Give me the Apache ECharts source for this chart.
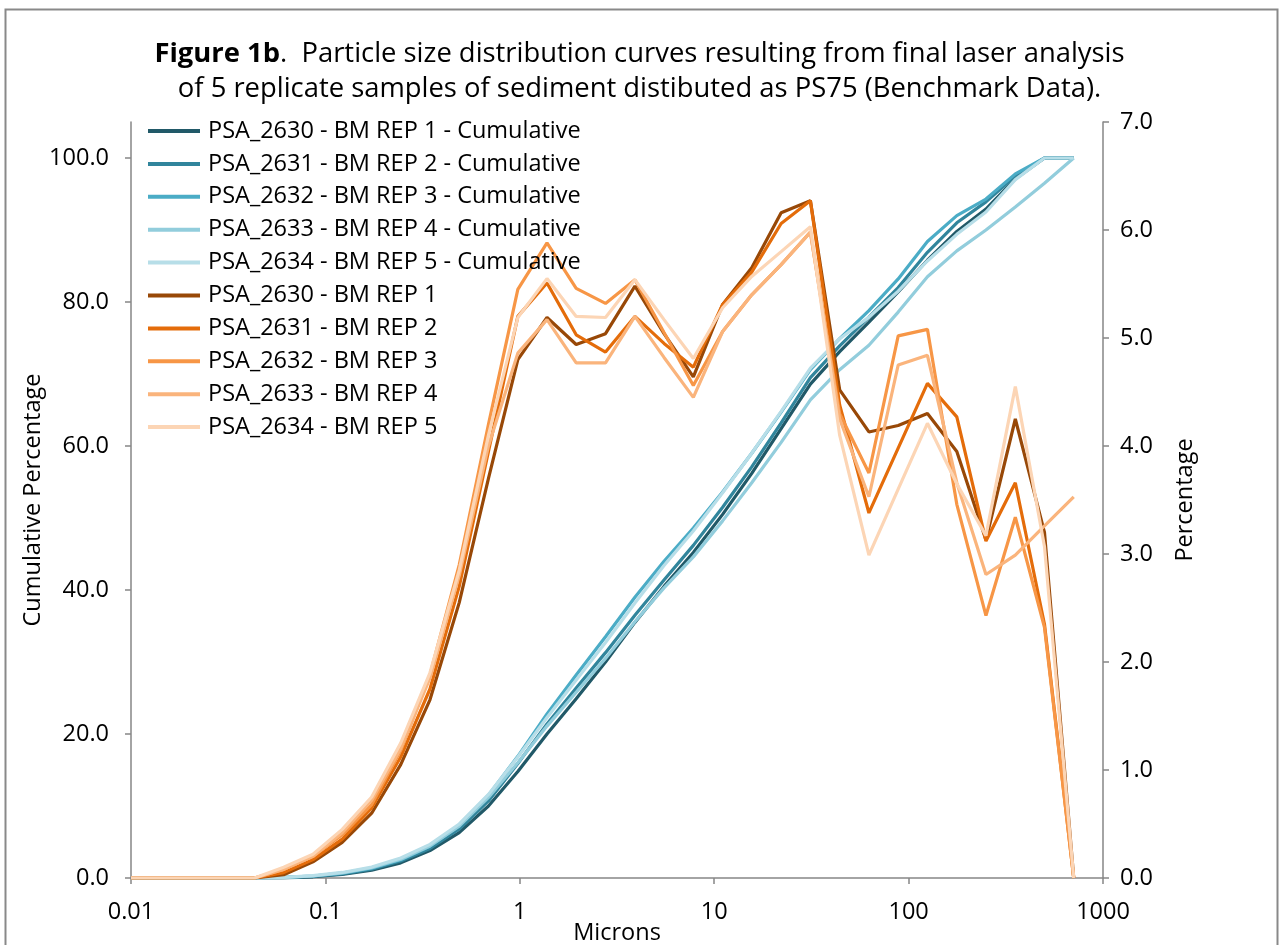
<!DOCTYPE html>
<html>
<head>
<meta charset="utf-8">
<script src="https://cdn.jsdelivr.net/npm/echarts@6/dist/echarts.min.js"></script>
<style>html,body{margin:0;padding:0;background:#fff}#c{width:1279px;height:945px}</style>
</head>
<body>
<div id="c"></div>
<script>
// Particle sizes (microns)
const microns = [0.01, 0.0432, 0.061, 0.0863, 0.122, 0.173, 0.244, 0.345, 0.488, 0.69, 0.977, 1.38, 1.95, 2.76, 3.91, 5.52, 7.81, 11.05, 15.6, 22.1, 31.25, 44.2, 62.5, 88.4, 125, 177, 250, 354, 500, 707];

// Cumulative percentage (left axis)
const cum1 = [0,0,0.03,0.17,0.5,1.1,2.1,3.8,6.3,10.0,14.8,20.0,24.9,30.0,35.5,40.5,45.2,50.5,56.2,62.4,68.6,73.1,77.2,81.4,85.8,89.8,92.9,97.1,100,100];
const cum2 = [0,0,0.05,0.22,0.58,1.23,2.35,4.1,6.8,10.7,15.9,21.4,26.4,31.3,36.5,41.4,46.2,51.5,57.1,63.2,69.5,73.9,77.9,82.0,86.9,91.0,93.9,97.5,100,100];
const cum3 = [0,0,0.08,0.28,0.68,1.36,2.54,4.4,7.3,11.5,16.9,22.8,28.2,33.5,39.0,44.0,48.6,53.6,59.0,64.7,70.6,74.9,78.8,83.2,88.4,92.0,94.3,97.8,100,100];
const cum4 = [0,0,0.08,0.28,0.7,1.42,2.6,4.45,7.2,11.2,16.0,21.1,25.8,30.5,35.6,40.3,44.6,49.6,54.9,60.5,66.4,70.6,74.0,78.6,83.5,87.1,90.0,93.2,96.5,100];
const cum5 = [0,0,0.1,0.32,0.77,1.52,2.77,4.67,7.5,11.6,16.8,22.3,27.5,32.7,38.2,43.4,48.2,53.5,59.0,64.8,70.8,74.9,77.9,81.5,85.7,89.4,92.5,97.0,100,100];

// Percentage in each size class (right axis)
const pct1 = [0,0,0.03,0.15,0.33,0.6,1.05,1.65,2.55,3.7,4.8,5.19,4.94,5.04,5.48,5.04,4.64,5.31,5.65,6.16,6.27,4.52,4.13,4.19,4.30,3.95,3.13,4.25,3.2,0];
const pct2 = [0,0,0.05,0.17,0.36,0.65,1.12,1.75,2.7,3.95,5.2,5.51,5.03,4.87,5.20,4.95,4.73,5.31,5.61,6.06,6.27,4.38,3.38,3.98,4.58,4.27,3.12,3.66,2.35,0];
const pct3 = [0,0,0.08,0.2,0.4,0.68,1.18,1.88,2.9,4.2,5.45,5.88,5.46,5.32,5.54,5.05,4.56,5.06,5.40,5.68,5.98,4.3,3.75,5.02,5.08,3.46,2.43,3.34,2.32,0];
const pct4 = [0,0,0.08,0.2,0.42,0.72,1.2,1.85,2.8,4.0,4.86,5.17,4.77,4.77,5.20,4.82,4.45,5.06,5.40,5.68,5.98,4.25,3.53,4.75,4.84,3.66,2.81,2.99,3.26,3.53];
const pct5 = [0,0,0.1,0.22,0.45,0.75,1.25,1.9,2.85,4.1,5.19,5.55,5.20,5.19,5.54,5.17,4.81,5.28,5.57,5.80,6.03,4.1,2.99,3.60,4.21,3.65,3.17,4.55,3.07,0];

const cumNames = ['PSA_2630 - BM REP 1 - Cumulative','PSA_2631 - BM REP 2 - Cumulative','PSA_2632 - BM REP 3 - Cumulative','PSA_2633 - BM REP 4 - Cumulative','PSA_2634 - BM REP 5 - Cumulative'];
const pctNames = ['PSA_2630 - BM REP 1','PSA_2631 - BM REP 2','PSA_2632 - BM REP 3','PSA_2633 - BM REP 4','PSA_2634 - BM REP 5'];
const cumColors = ['#215968','#31859C','#4BACC6','#92CDDC','#B7DEE8'];
const pctColors = ['#984807','#E46C0A','#F79646','#FAB47C','#FCD5B5'];

const leftTicks = [0,20,40,60,80,100];
const rightTicks = [0,1,2,3,4,5,6,7];

const FONT = 'Open Sans';
const FS = 23.5;
const cums = [cum1,cum2,cum3,cum4,cum5];
const pcts = [pct1,pct2,pct3,pct4,pct5];

const series = [];
cums.forEach((arr,i)=>series.push({
  name: cumNames[i], type:'line', yAxisIndex:0, symbol:'none', smooth:false,
  lineStyle:{width:3.2,color:cumColors[i]}, itemStyle:{color:cumColors[i]},
  data: microns.map((m,j)=>[m,arr[j]]), z: 2
}));
pcts.forEach((arr,i)=>series.push({
  name: pctNames[i], type:'line', yAxisIndex:1, symbol:'none', smooth:false,
  lineStyle:{width:3.2,color:pctColors[i]}, itemStyle:{color:pctColors[i]},
  data: microns.map((m,j)=>[m,arr[j]]), z: 3
}));

const axisLineStyle = {color:'#868686', width:1.5};
const chart = echarts.init(document.getElementById('c'), null, {renderer:'canvas'});
chart.setOption({
  animation:false,
  backgroundColor:'#fff',
  title:{
    left:'center', top:31.5,
    text:'{b|Figure 1b}.  Particle size distribution curves resulting from final laser analysis\nof 5 replicate samples of sediment distibuted as PS75 (Benchmark Data).',
    textStyle:{fontFamily:FONT, fontSize:27.4, fontWeight:'normal', color:'#000', lineHeight:35,
      rich:{b:{fontFamily:FONT, fontSize:27.4, fontWeight:'bold', color:'#000', lineHeight:35}}}
  },
  grid:{left:131, right:176, top:122, bottom:67, containLabel:false, outerBoundsMode:'none'},
  legend:{
    orient:'vertical', left:143, top:114, icon:'rect', itemWidth:52, itemHeight:4, itemGap:8.9,
    textStyle:{fontFamily:FONT, fontSize:FS, color:'#000', lineHeight:24, padding:[0,0,0,3]},
    data:[...cumNames, ...pctNames]
  },
  xAxis:{
    type:'log', logBase:10, min:0.01, max:1000,
    name:'Microns', nameLocation:'middle', nameGap:43, nameMoveOverlap:false,
    nameTextStyle:{fontFamily:FONT, fontSize:FS, color:'#000'},
    axisLine:{lineStyle:axisLineStyle},
    axisTick:{show:true, length:6, lineStyle:axisLineStyle},
    minorTick:{show:false},
    splitLine:{show:false},
    axisLabel:{fontFamily:FONT, fontSize:FS, color:'#000', margin:22,
      formatter:(v)=>{const n=Math.round(Math.log10(v)); return n<0 ? Math.pow(10,n).toFixed(-n) : String(Math.pow(10,n));}}
  },
  yAxis:[
    {
      type:'value', min:0, max:105, interval:20, position:'left',
      name:'Cumulative Percentage', nameLocation:'middle', nameGap:86, nameRotate:90, nameMoveOverlap:false,
      nameTextStyle:{fontFamily:FONT, fontSize:FS, color:'#000'},
      axisLine:{show:true, lineStyle:axisLineStyle},
      axisTick:{show:true, length:6, lineStyle:axisLineStyle, customValues:leftTicks},
      splitLine:{show:false},
      axisLabel:{fontFamily:FONT, fontSize:FS, color:'#000', margin:22, customValues:leftTicks,
        formatter:(v)=> v>100 ? '' : v.toFixed(1)}
    },
    {
      type:'value', min:0, max:7, interval:1, position:'right',
      name:'Percentage', nameLocation:'middle', nameGap:70, nameRotate:90, nameMoveOverlap:false,
      nameTextStyle:{fontFamily:FONT, fontSize:FS, color:'#000'},
      axisLine:{show:true, lineStyle:axisLineStyle},
      axisTick:{show:true, length:6, lineStyle:axisLineStyle, customValues:rightTicks},
      splitLine:{show:false},
      axisLabel:{fontFamily:FONT, fontSize:FS, color:'#000', margin:17, customValues:rightTicks,
        formatter:(v)=> v.toFixed(1)}
    }
  ],
  graphic:[{type:'rect', left:3, top:7, shape:{width:1272, height:960}, style:{fill:null, stroke:'#898989', lineWidth:2}, silent:true, z:-1}],
  series: series
});
</script>
</body>
</html>
